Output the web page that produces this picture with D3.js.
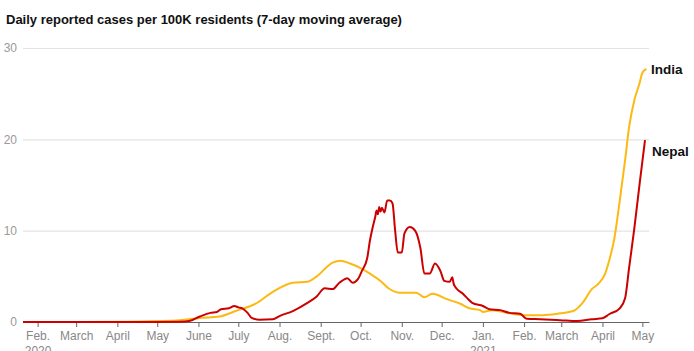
<!DOCTYPE html>
<html>
<head>
<meta charset="utf-8">
<script src="https://cdn.jsdelivr.net/npm/d3@7"></script>
<style>
  body { margin: 0; background: #fff; }
  svg { display: block; font-family: "Liberation Sans", Arial, sans-serif; }
</style>
</head>
<body>
<div id="chart"></div>
<script>
const indiaDates = ["2020-01-21", "2020-03-01", "2020-04-01", "2020-04-18", "2020-05-01", "2020-05-18", "2020-06-02", "2020-06-17", "2020-06-29", "2020-07-14", "2020-07-27", "2020-08-11", "2020-08-22", "2020-08-29", "2020-09-10", "2020-09-16", "2020-09-23", "2020-10-01", "2020-10-08", "2020-10-16", "2020-10-22", "2020-10-31", "2020-11-12", "2020-11-18", "2020-11-24", "2020-12-05", "2020-12-15", "2020-12-22", "2020-12-30", "2021-01-01", "2021-01-08", "2021-01-21", "2021-02-03", "2021-02-15", "2021-02-28", "2021-03-10", "2021-03-17", "2021-03-24", "2021-03-29", "2021-04-03", "2021-04-06", "2021-04-10", "2021-04-14", "2021-04-18", "2021-04-21", "2021-04-25", "2021-04-29", "2021-05-01", "2021-05-04"];
const indiaValues = [0, 0, 0.02, 0.05, 0.1, 0.2, 0.45, 0.6, 1.2, 2.0, 3.3, 4.3, 4.4, 5.0, 6.5, 6.7, 6.4, 5.9, 5.3, 4.5, 3.7, 3.2, 3.2, 2.7, 3.1, 2.5, 2.0, 1.5, 1.3, 1.1, 1.3, 0.95, 0.75, 0.75, 0.95, 1.2, 2.1, 3.6, 4.2, 5.3, 6.7, 9.2, 13.3, 17.7, 21.3, 24.3, 26.2, 27.3, 27.7];

const nepalDates = ["2020-01-21", "2020-05-01", "2020-05-18", "2020-05-25", "2020-06-02", "2020-06-10", "2020-06-15", "2020-06-18", "2020-06-24", "2020-06-28", "2020-07-01", "2020-07-04", "2020-07-08", "2020-07-11", "2020-07-17", "2020-07-27", "2020-08-01", "2020-08-11", "2020-08-22", "2020-08-29", "2020-09-04", "2020-09-10", "2020-09-15", "2020-09-17", "2020-09-21", "2020-09-25", "2020-09-29", "2020-10-02", "2020-10-06", "2020-10-08", "2020-10-10", "2020-10-12", "2020-10-13", "2020-10-14", "2020-10-15", "2020-10-16", "2020-10-17", "2020-10-19", "2020-10-21", "2020-10-23", "2020-10-25", "2020-10-27", "2020-10-29", "2020-11-01", "2020-11-03", "2020-11-07", "2020-11-11", "2020-11-15", "2020-11-18", "2020-11-22", "2020-11-26", "2020-11-30", "2020-12-03", "2020-12-07", "2020-12-09", "2020-12-10", "2020-12-12", "2020-12-17", "2020-12-21", "2020-12-24", "2021-01-01", "2021-01-06", "2021-01-14", "2021-01-21", "2021-01-29", "2021-02-03", "2021-02-13", "2021-02-28", "2021-03-13", "2021-03-24", "2021-04-01", "2021-04-06", "2021-04-14", "2021-04-18", "2021-04-21", "2021-04-25", "2021-04-29", "2021-05-03"];
const nepalValues = [0, 0, 0.02, 0.1, 0.6, 1.0, 1.1, 1.4, 1.5, 1.75, 1.6, 1.5, 1.0, 0.45, 0.25, 0.3, 0.65, 1.2, 2.1, 2.8, 3.7, 3.6, 4.3, 4.5, 4.8, 4.3, 4.7, 5.6, 7.0, 8.9, 10.3, 11.5, 12.2, 11.8, 12.6, 12.1, 12.5, 12.0, 13.3, 13.3, 13.0, 10.0, 7.6, 7.6, 9.7, 10.4, 10.0, 8.1, 5.3, 5.3, 6.4, 5.6, 4.5, 4.4, 4.9, 4.2, 3.7, 3.1, 2.5, 2.1, 1.75, 1.4, 1.3, 1.0, 0.9, 0.35, 0.3, 0.2, 0.1, 0.3, 0.4, 0.85, 1.5, 2.6, 5.9, 10.3, 15.2, 19.9];

const monthTicks = ["2020-02-01", "2020-03-01", "2020-04-01", "2020-05-01", "2020-06-01", "2020-07-01", "2020-08-01", "2020-09-01", "2020-10-01", "2020-11-01", "2020-12-01", "2021-01-01", "2021-02-01", "2021-03-01", "2021-04-01", "2021-05-01"];
const monthLabels = ["Feb.", "March", "April", "May", "June", "July", "Aug.", "Sept.", "Oct.", "Nov.", "Dec.", "Jan.", "Feb.", "March", "April", "May"];
const yearLabels = ["2020", "", "", "", "", "", "", "", "", "", "", "2021", "", "", "", ""];
const yTicks = [0, 10, 20, 30];

const width = 694;
const height = 351;
const parse = d3.timeParse("%Y-%m-%d");

const svg = d3.select("#chart")
  .append("svg")
  .attr("width", width)
  .attr("height", height);

const x = d3.scaleTime()
  .domain([parse("2020-01-21"), parse("2021-05-06")])
  .range([23, 649]);

const y = d3.scaleLinear()
  .domain([0, 30])
  .range([322, 48]);

// title
svg.append("text")
  .attr("x", 6)
  .attr("y", 24)
  .attr("fill", "#111")
  .style("font-size", "13px")
  .style("font-weight", "bold")
  .text("Daily reported cases per 100K residents (7-day moving average)");

// gridlines + y labels
const yAxis = svg.append("g")
  .call(d3.axisLeft(y).tickValues(yTicks).tickSize(-(649 - 23)).tickFormat(d3.format("d")))
  .attr("transform", "translate(23,0)");
yAxis.select(".domain").remove();
yAxis.selectAll(".tick line").attr("stroke", "#e3e3e3").attr("stroke-width", 1.2);
yAxis.selectAll(".tick text")
  .attr("x", -6)
  .attr("fill", "#999")
  .style("font-family", "Liberation Sans, Arial, sans-serif")
  .style("font-size", "12px");

// x axis
const xAxis = svg.append("g")
  .attr("transform", "translate(0,322)")
  .call(d3.axisBottom(x)
    .tickValues(monthTicks.map(parse))
    .tickSize(5)
    .tickSizeOuter(0)
    .tickFormat((d, i) => monthLabels[i]));
xAxis.select(".domain").attr("stroke", "#666");
xAxis.selectAll(".tick line").attr("stroke", "#666");
xAxis.selectAll(".tick text")
  .attr("y", 9)
  .attr("fill", "#888")
  .style("font-family", "Liberation Sans, Arial, sans-serif")
  .style("font-size", "12px");
xAxis.selectAll(".tick")
  .append("text")
  .attr("y", 24)
  .attr("dy", "0.71em")
  .attr("fill", "#888")
  .attr("text-anchor", "middle")
  .style("font-size", "12px")
  .text((d, i) => yearLabels[i]);

const line = d3.line()
  .x((d) => x(d.date))
  .y((d) => y(d.value))
  .curve(d3.curveMonotoneX);

const india = indiaDates.map((d, i) => ({ date: parse(d), value: indiaValues[i] }));
const nepal = nepalDates.map((d, i) => ({ date: parse(d), value: nepalValues[i] }));

svg.append("path")
  .datum(india)
  .attr("fill", "none")
  .attr("stroke", "#fdb913")
  .attr("stroke-width", 2)
  .attr("d", line);

svg.append("path")
  .datum(nepal)
  .attr("fill", "none")
  .attr("stroke", "#cc0000")
  .attr("stroke-width", 2)
  .attr("d", line);

// series labels
svg.append("text")
  .attr("x", 651)
  .attr("y", y(indiaValues[indiaValues.length - 1]))
  .attr("dy", "0.35em")
  .attr("fill", "#111")
  .style("font-size", "13.5px")
  .style("font-weight", "bold")
  .text("India");

svg.append("text")
  .attr("x", 652)
  .attr("y", y(nepalValues[nepalValues.length - 1]) + 11)
  .attr("dy", "0.35em")
  .attr("fill", "#111")
  .style("font-size", "13.5px")
  .style("font-weight", "bold")
  .text("Nepal");
</script>
</body>
</html>
